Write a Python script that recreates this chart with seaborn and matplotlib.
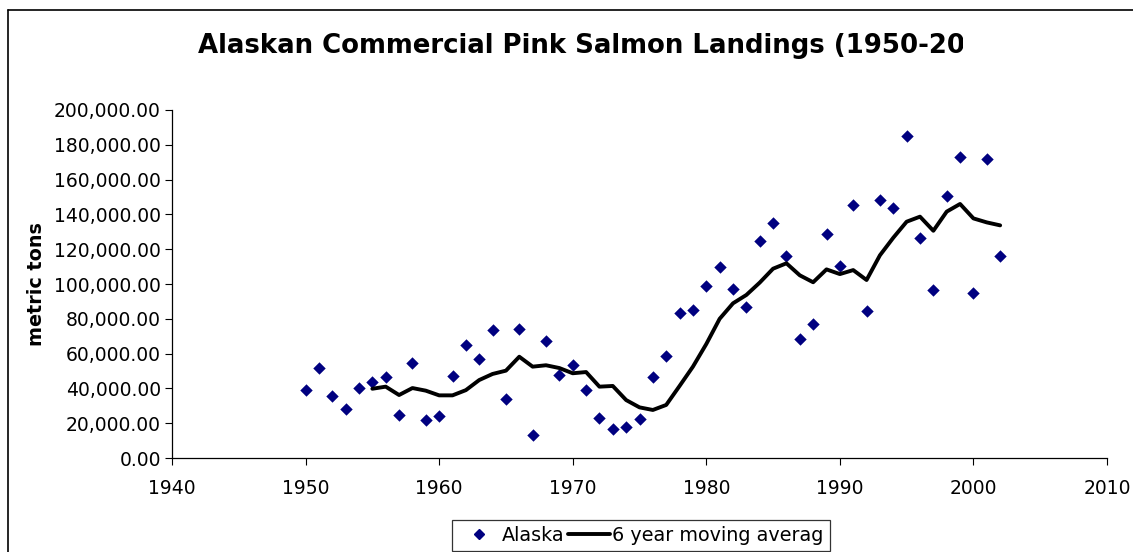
import matplotlib
matplotlib.use("Agg")
import matplotlib.pyplot as plt
from matplotlib.lines import Line2D
from matplotlib.patches import Rectangle
from matplotlib.ticker import FuncFormatter
import seaborn as sns
import pandas as pd

# yearly landings, metric tons
years = list(range(1950, 2003))
alaska = [39000, 51500, 35800, 28300, 40400, 43500, 46400, 24500, 54800, 21800,
          24100, 47000, 65000, 56700, 73600, 34100, 74000, 13000, 67400, 47700,
          53400, 39000, 22800, 16700, 18000, 22600, 46400, 58600, 83500, 84900,
          99000, 109800, 97300, 87000, 124700, 135200, 116100, 68400, 77000, 128900,
          110500, 145600, 84200, 148300, 143500, 185000, 126200, 96500, 150700, 173200,
          94600, 171600, 116100]

# 6 year moving average, starts in 1955
ma_years = list(range(1955, 2003))
moving_avg = [39800, 41000, 36200, 40200, 38700, 36000, 36000, 39000, 44800, 48300,
              50200, 58200, 52500, 53300, 51700, 48700, 49400, 41000, 41400, 33300,
              29100, 27600, 30500, 41400, 52500, 65500, 80000, 88900, 93700, 100800,
              108800, 111900, 105000, 101000, 108400, 105700, 108000, 102300, 116500, 126600,
              135800, 138700, 130600, 141600, 146000, 137700, 135400, 133700]

df = pd.DataFrame({"year": years, "tons": alaska})
df_ma = pd.DataFrame({"year": ma_years, "tons": moving_avg})

sns.set_style("ticks")
plt.rcParams["font.family"] = ["DejaVu Sans"]
plt.rcParams["text.color"] = "black"
plt.rcParams["axes.labelcolor"] = "black"
plt.rcParams["xtick.color"] = "black"
plt.rcParams["ytick.color"] = "black"

W, H = 1133, 552
fig = plt.figure(figsize=(W / 100, H / 100), dpi=100)
ax = fig.add_axes([172 / W, 1 - 458 / H, (1107 - 172) / W, (458 - 110) / H])

sns.scatterplot(data=df, x="year", y="tons", marker="D", s=40, color="#000080",
                linewidth=0, ax=ax, legend=False)
sns.lineplot(data=df_ma, x="year", y="tons", color="black", linewidth=2.8, ax=ax,
             legend=False)

ax.set_xlim(1940, 2010)
ax.set_ylim(0, 200000)
ax.set_xticks(range(1940, 2011, 10))
ax.set_yticks(range(0, 200001, 20000))
ax.yaxis.set_major_formatter(FuncFormatter(lambda v, p: f"{v:,.2f}"))
ax.tick_params(labelsize=13.5, length=5, width=0.8, color="black", pad=3)
ax.tick_params(axis="x", pad=10)
ax.set_xlabel("")
ax.set_ylabel("metric tons", fontsize=13.8, fontweight="bold", labelpad=6)
sns.despine(ax=ax)
for sp in ["left", "bottom"]:
    ax.spines[sp].set_linewidth(0.9)
    ax.spines[sp].set_color("black")

# title, cut off on the right like the original chart
fig.text(198 / W, 1 - 53 / H, "Alaskan Commercial Pink Salmon Landings (1950-2002)",
         fontsize=18.7, fontweight="bold", ha="left", va="baseline")
fig.add_artist(Rectangle((963 / W, 1 - 75 / H), 1, 55 / H, facecolor="white",
                         edgecolor="none", transform=fig.transFigure, zorder=10))

# outer chart border
fig.add_artist(Line2D([8 / W, 8 / W], [0, 1 - 10 / H], color="black", linewidth=1.2))
fig.add_artist(Line2D([8 / W, 1], [1 - 10 / H, 1 - 10 / H], color="black", linewidth=1.2))

handles = [
    Line2D([], [], marker="D", linestyle="none", color="#000080", markersize=5.5),
    Line2D([], [], color="black", linewidth=2.8),
]
leg = fig.legend(handles, ["Alaska", "6 year moving averag"], loc="upper left",
                 bbox_to_anchor=(452 / W, 1 - 520 / H), ncol=2, fontsize=13.8,
                 frameon=True, fancybox=False, edgecolor="black", handlelength=2.2,
                 handletextpad=0.1, columnspacing=0.2, borderpad=0.3,
                 borderaxespad=0)
leg.get_frame().set_linewidth(0.9)

fig.savefig("out.png", dpi=100)
